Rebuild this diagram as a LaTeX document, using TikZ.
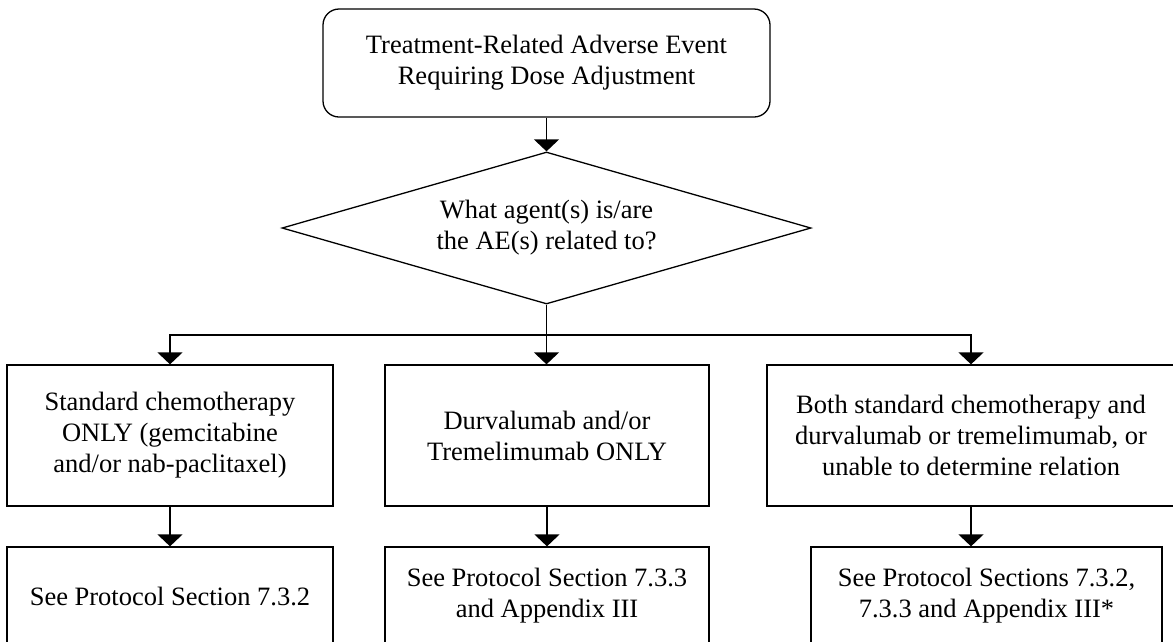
\documentclass[tikz,border=0pt]{standalone}
\usepackage{fontspec}
\setmainfont{Liberation Serif}
\usetikzlibrary{shapes.geometric,arrows.meta}
\begin{document}
\begin{tikzpicture}[x=1pt,y=-1pt,
  every node/.style={font=\fontsize{26.5}{31}\selectfont, align=center, inner sep=0pt, line width=1.3pt},
  box/.style={draw, rectangle},
  rbox/.style={draw, rectangle, rounded corners=16pt},
  decision/.style={draw, diamond, aspect=3.48},
  arr/.style={-{Triangle[width=25pt,length=12pt]}},
  conn/.style={line width=1.4pt}]
\clip (0,0) rectangle (1173,641);
\fill[white] (0,0) rectangle (1173,641);
\node[rbox, minimum width=447pt, minimum height=108pt] (top) at (546.5,63) {Treatment-Related Adverse Event\\Requiring Dose Adjustment};
\node[decision, minimum width=529pt, minimum height=152pt] (dia) at (546.5,228) {What agent(s) is/are\\the AE(s) related to?};
\node[box, minimum width=326pt, minimum height=141pt] (b1) at (170,435.5) {Standard chemotherapy\\ONLY (gemcitabine\\and/or nab-paclitaxel)};
\node[box, minimum width=324pt, minimum height=141pt] (b2) at (547,435.5) {Durvalumab and/or\\Tremelimumab ONLY};
\node[box, minimum width=408pt, minimum height=141pt] (b3) at (971,435.5) {Both standard chemotherapy and\\durvalumab or tremelimumab, or\\unable to determine relation};
\node[box, minimum width=326pt, minimum height=98pt] (c1) at (170,596) {See Protocol Section 7.3.2};
\node[box, minimum width=324pt, minimum height=98pt] (c2) at (547,596) {See Protocol Section 7.3.3\\and Appendix III};
\node[box, minimum width=351pt, minimum height=98pt] (c3) at (986.5,596) {See Protocol Sections 7.3.2,\\7.3.3 and Appendix III*};
\coordinate (J) at (546.5,335);
\draw[conn,arr] (top.south) -- (dia.north);
\draw[conn] (dia.south) -- (J);
\draw[conn,arr] (J) -| (b1.north);
\draw[conn,arr] (J) -- (J |- b2.north);
\draw[conn,arr] (J) -| (b3.north);
\draw[conn,arr] (b1.south) -- (c1.north);
\draw[conn,arr] (b2.south) -- (c2.north);
\draw[conn,arr] (b3.south) -- (b3.south |- c3.north);
\end{tikzpicture}
\end{document}
